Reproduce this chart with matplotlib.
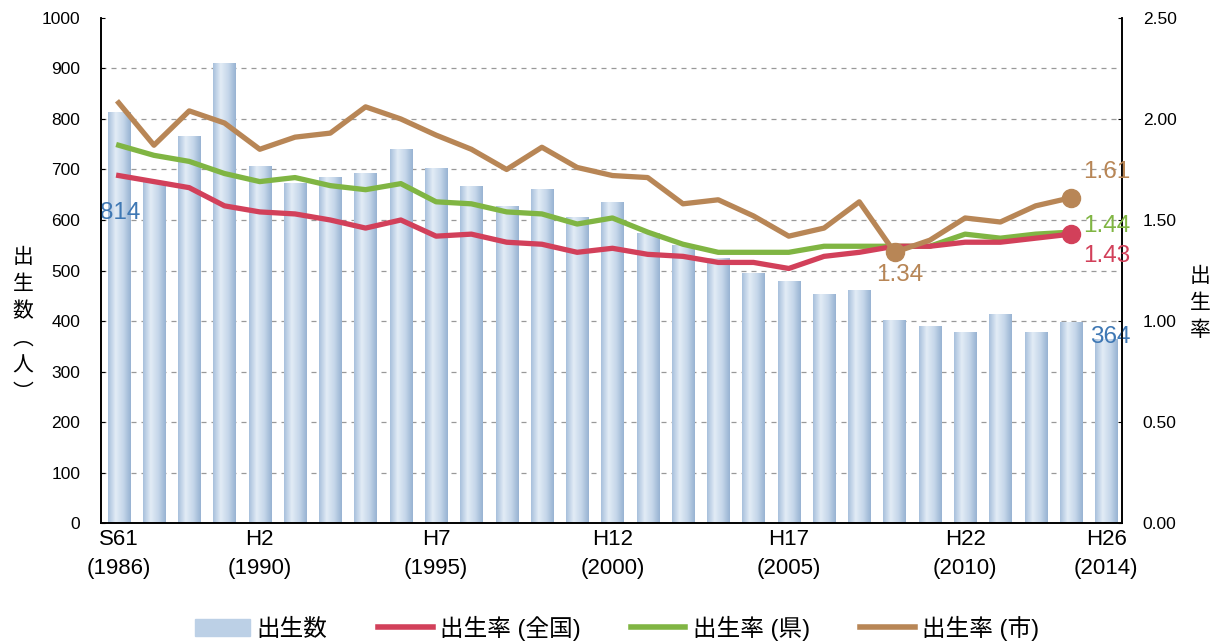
import numpy as np
import matplotlib.pyplot as plt
from matplotlib.colors import LinearSegmentedColormap
from matplotlib.lines import Line2D
from matplotlib.patches import Patch

plt.rcParams['font.family'] = ['Liberation Sans', 'Noto Sans CJK JP']

# 出生数 1986-2014
years = list(range(1986, 2015))
births = [814, 678, 766, 911, 707, 673, 685, 693, 740, 703, 667, 628, 661, 606, 636,
          574, 550, 524, 495, 479, 453, 461, 402, 390, 378, 414, 378, 398, 364]
# 出生率 1986-2013
rate_nation = [1.72, 1.69, 1.66, 1.57, 1.54, 1.53, 1.50, 1.46, 1.50, 1.42, 1.43, 1.39, 1.38, 1.34,
               1.36, 1.33, 1.32, 1.29, 1.29, 1.26, 1.32, 1.34, 1.37, 1.37, 1.39, 1.39, 1.41, 1.43]
rate_pref = [1.87, 1.82, 1.79, 1.73, 1.69, 1.71, 1.67, 1.65, 1.68, 1.59, 1.58, 1.54, 1.53, 1.48,
             1.51, 1.44, 1.38, 1.34, 1.34, 1.34, 1.37, 1.37, 1.37, 1.37, 1.43, 1.41, 1.43, 1.44]
rate_city = [2.08, 1.87, 2.04, 1.98, 1.85, 1.91, 1.93, 2.06, 2.00, 1.92, 1.85, 1.75, 1.86, 1.76,
             1.72, 1.71, 1.58, 1.60, 1.52, 1.42, 1.46, 1.59, 1.34, 1.40, 1.51, 1.49, 1.57, 1.61]
tick_pos = [0, 4, 9, 14, 19, 24, 28]
tick_labels = ['S61\n(1986)', 'H2\n(1990)', 'H7\n(1995)', 'H12\n(2000)',
               'H17\n(2005)', 'H22\n(2010)', 'H26\n(2014)']

c_bar = '#bcd0e6'
c_nat = '#d2405a'
c_pref = '#80b543'
c_city = '#b88656'
c_num = '#3f78b4'

fig = plt.figure(figsize=(12.22, 6.41), dpi=100)
ax = fig.add_axes([0.0827, 0.184, 0.8355, 0.788])
ax2 = ax.twinx()

x = np.arange(len(years))
w = 0.63
bars = ax.bar(x, births, width=w, color=c_bar, zorder=2)
# グラデーション
cmap = LinearSegmentedColormap.from_list('g', ['#a8c0dc', '#e2ecf6', '#c6d7ea', '#98b3d2'])
grad = np.linspace(0, 1, 64).reshape(1, -1)
for b in bars:
    bx, by = b.get_x(), b.get_y()
    im = ax.imshow(grad, cmap=cmap, aspect='auto', zorder=2.1,
                   extent=[bx, bx + b.get_width(), by, by + b.get_height()])
    im.set_clip_path(b)

ax.set_xlim(-0.5, 28.45)
ax.set_ylim(0, 1000)
ax.set_yticks(range(0, 1001, 100))
for v in range(100, 1000, 100):
    ax.axhline(v, color='#999999', lw=0.9, ls=(0, (4, 4)), zorder=1)
ax.set_xticks(tick_pos)
ax.set_xticklabels(tick_labels, fontsize=16, linespacing=1.55)
ax.tick_params(axis='x', length=0, pad=4)
ax.tick_params(axis='y', labelsize=12.5, length=3, direction='in', pad=15)

ax2.set_ylim(0, 2.5)
ax2.set_yticks(np.arange(0, 2.51, 0.5))
ax2.set_yticklabels([f'{v:.2f}' for v in np.arange(0, 2.51, 0.5)])
ax2.tick_params(axis='y', labelsize=12.5, length=3, direction='in', pad=15)

for a in (ax, ax2):
    a.spines['top'].set_visible(False)
    for s in ('left', 'right', 'bottom'):
        a.spines[s].set_linewidth(1.2)

xl = x[:len(rate_nation)]
lw = 3.8
ax2.plot(xl, rate_nation, color=c_nat, lw=lw, zorder=4, solid_joinstyle='round')
ax2.plot(xl, rate_pref, color=c_pref, lw=lw, zorder=3, solid_joinstyle='round')
ax2.plot(xl, rate_city, color=c_city, lw=lw, zorder=5, solid_joinstyle='round')
ax2.plot(xl[-1], rate_nation[-1], 'o', color=c_nat, ms=13, zorder=6)
ax2.plot(xl[-1], rate_city[-1], 'o', color=c_city, ms=13, zorder=6)
imin = int(np.argmin(rate_city))
ax2.plot(xl[imin], rate_city[imin], 'o', color=c_city, ms=13, zorder=6)

fs = 17.5
ax2.text(xl[-1] + 0.35, rate_city[-1] + 0.13, f'{rate_city[-1]:.2f}', color=c_city,
         fontsize=fs, va='center', ha='left', zorder=7)
ax2.text(xl[-1] + 0.35, rate_pref[-1] + 0.03, f'{rate_pref[-1]:.2f}', color=c_pref,
         fontsize=fs, va='center', ha='left', zorder=7)
ax2.text(xl[-1] + 0.35, rate_nation[-1] - 0.11, f'{rate_nation[-1]:.2f}', color=c_nat,
         fontsize=fs, va='center', ha='left', zorder=7)
ax2.text(xl[imin] + 0.15, rate_city[imin] - 0.11, f'{rate_city[imin]:.2f}', color=c_city,
         fontsize=fs, va='center', ha='center', zorder=7)
ax.text(x[0] + 0.05, births[0] - 200, str(births[0]), color=c_num, fontsize=fs,
        ha='center', va='center', zorder=7)
ax.text(x[-1] + 0.12, births[-1] + 5, str(births[-1]), color=c_num, fontsize=fs,
        ha='center', va='center', zorder=7)

fig.text(0.019, 0.493, '出\n生\n数\n︵\n人\n︶', fontsize=15, ha='center', va='center',
         linespacing=1.3, family=['Noto Sans CJK JP'])
fig.text(0.982, 0.527, '出\n生\n率', fontsize=15, ha='center', va='center',
         linespacing=1.3, family=['Noto Sans CJK JP'])

handles = [Patch(color=c_bar), Line2D([], [], color=c_nat, lw=4),
           Line2D([], [], color=c_pref, lw=4), Line2D([], [], color=c_city, lw=4)]
labels = ['出生数', '出生率 (全国)', '出生率 (県)', '出生率 (市)']
fig.legend(handles, labels, loc='center', bbox_to_anchor=(0.505, 0.02), ncol=4, frameon=False,
           prop={'family': ['Liberation Sans', 'Noto Sans CJK JP'], 'size': 17},
           handlelength=2.3, columnspacing=2.15, handletextpad=0.3)

fig.savefig('out.png', dpi=100)
